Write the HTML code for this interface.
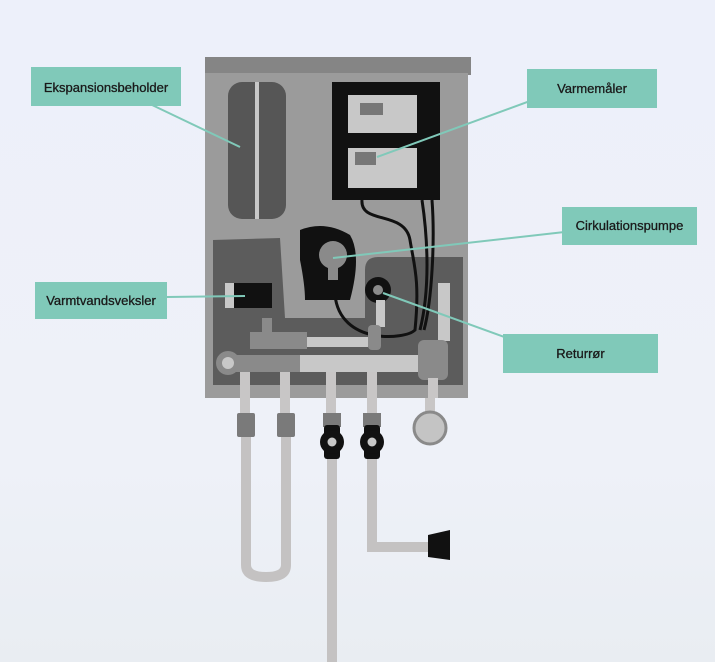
<!DOCTYPE html><html><head><style>body{margin:0;background:#edf0f9}svg{display:block}text{font-family:"Liberation Sans",sans-serif;font-size:13px;fill:#1a1a1a;stroke:#1a1a1a;stroke-width:0.3}</style></head><body>
<svg width="715" height="662" viewBox="0 0 715 662">
<defs><linearGradient id="bg" x1="0" y1="0" x2="0" y2="1"><stop offset="0" stop-color="#edf0fa"/><stop offset="0.7" stop-color="#eef1f8"/><stop offset="1" stop-color="#e9edf2"/></linearGradient></defs>
<rect width="715" height="662" fill="url(#bg)"/>
<g fill="#c4c2c2">
<path d="M241,430 V565 Q241,582 266,582 Q291,582 291,565 V430 H281 V565 Q281,572 266,572 Q251,572 251,565 V430Z"/>
<rect x="327" y="430" width="10" height="232"/>
<path d="M367,430 V552 H432 V542 H377 V430Z"/>
</g>
<path d="M428,535 L450,530 V560 L428,557Z" fill="#111"/>
<g fill="#c8c6c6"><rect x="240" y="395" width="10" height="20"/><rect x="280" y="395" width="10" height="20"/><rect x="326" y="395" width="10" height="20"/><rect x="367" y="395" width="10" height="20"/><rect x="425" y="395" width="10" height="20"/></g>
<g fill="#7a7a7a"><rect x="237" y="413" width="18" height="24" rx="2"/><rect x="277" y="413" width="18" height="24" rx="2"/><rect x="323" y="413" width="18" height="14"/><rect x="363" y="413" width="18" height="14"/></g>
<rect x="324" y="425" width="16" height="34" fill="#111" rx="3"/><circle cx="332" cy="442" r="12" fill="#111"/><circle cx="332" cy="442" r="4.5" fill="#c8c8c8"/>
<rect x="364" y="425" width="16" height="34" fill="#111" rx="3"/><circle cx="372" cy="442" r="12" fill="#111"/><circle cx="372" cy="442" r="4.5" fill="#c8c8c8"/>
<circle cx="430" cy="428" r="16" fill="#c4c4c4" stroke="#8a8a8a" stroke-width="3"/>
<rect x="205" y="57" width="266" height="18" fill="#858585"/>
<rect x="205" y="73" width="263" height="325" fill="#9b9b9b"/>
<path d="M213,240 L280,238 L285,318 L365,318 L365,270 Q365,257 378,257 L463,257 L463,385 L213,385Z" fill="#5c5c5c"/>
<rect x="228" y="82" width="58" height="137" rx="14" fill="#565656"/>
<rect x="255" y="82" width="4" height="137" fill="#c8c8c8"/>
<rect x="332" y="82" width="108" height="118" fill="#111"/>
<rect x="348" y="95" width="69" height="38" fill="#c8c8c8"/><rect x="360" y="103" width="23" height="12" fill="#777"/>
<rect x="348" y="148" width="69" height="40" fill="#c8c8c8"/><rect x="355" y="152" width="21" height="13" fill="#777"/>
<g fill="none" stroke="#111" stroke-width="3"><path d="M362,200 C360,225 405,210 410,240 C414,265 420,280 415,330 C405,340 340,345 335,295"/><path d="M422,200 C428,240 430,290 420,330"/><path d="M432,200 C435,240 432,300 424,330"/></g>
<path d="M300,230 Q325,220 350,235 Q362,255 350,300 L305,300 Q305,285 300,260Z" fill="#111"/>
<circle cx="333" cy="255" r="14" fill="#8a8a8a"/><rect x="328" y="262" width="10" height="18" fill="#8a8a8a"/>
<circle cx="378" cy="290" r="13" fill="#111"/><circle cx="378" cy="290" r="5" fill="#8a8a8a"/>
<rect x="234" y="283" width="38" height="25" fill="#111"/><rect x="225" y="283" width="9" height="25" fill="#c8c8c8"/>
<rect x="376" y="300" width="9" height="27" fill="#c8c8c8"/>
<rect x="262" y="318" width="10" height="16" fill="#8a8a8a"/>
<rect x="250" y="332" width="57" height="17" fill="#8a8a8a"/>
<rect x="307" y="337" width="61" height="10" fill="#c8c8c8"/>
<rect x="368" y="325" width="13" height="25" rx="4" fill="#8a8a8a"/>
<rect x="438" y="283" width="12" height="58" fill="#c8c8c8"/>
<rect x="300" y="355" width="120" height="17" fill="#c8c8c8"/>
<rect x="228" y="355" width="72" height="17" fill="#8a8a8a"/>
<circle cx="228" cy="363" r="12" fill="#8a8a8a"/><circle cx="228" cy="363" r="6" fill="#c8c8c8"/>
<rect x="418" y="340" width="30" height="40" rx="6" fill="#8a8a8a"/>
<g fill="#c8c6c6"><rect x="240" y="372" width="10" height="26"/><rect x="280" y="372" width="10" height="26"/><rect x="326" y="372" width="10" height="26"/><rect x="367" y="372" width="10" height="26"/><rect x="428" y="378" width="10" height="20"/></g>
<g stroke="#80c9b9" stroke-width="2"><line x1="150" y1="104" x2="240" y2="147"/><line x1="560" y1="90" x2="377" y2="157"/><line x1="600" y1="228" x2="333" y2="258"/><line x1="167" y1="297" x2="245" y2="296"/><line x1="540" y1="350" x2="383" y2="293"/></g>
<g fill="#80c9b9"><rect x="31" y="67" width="150" height="39"/><rect x="527" y="69" width="130" height="39"/><rect x="562" y="207" width="135" height="38"/><rect x="35" y="282" width="132" height="37"/><rect x="503" y="334" width="155" height="39"/></g>
<text x="106" y="92" text-anchor="middle">Ekspansionsbeholder</text>
<text x="592" y="93" text-anchor="middle">Varmemåler</text>
<text x="629.5" y="230" text-anchor="middle">Cirkulationspumpe</text>
<text x="101" y="305" text-anchor="middle">Varmtvandsveksler</text>
<text x="580.5" y="358" text-anchor="middle">Returrør</text>
</svg></body></html>
